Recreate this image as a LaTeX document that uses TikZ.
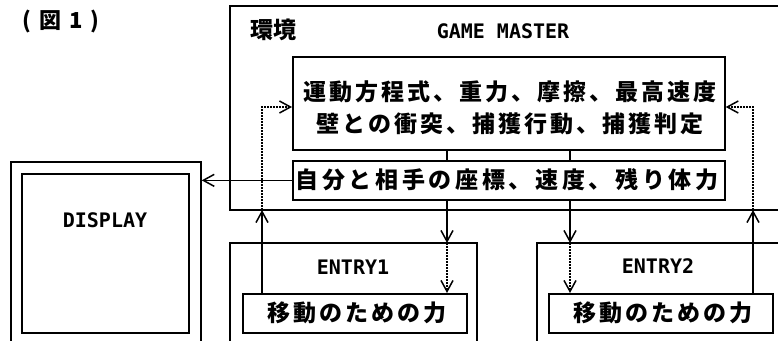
\documentclass[tikz,border=0pt]{standalone}
\usepackage{fontspec}
\newfontfamily\jp{Noto Sans CJK JP}
\newfontfamily\jpA{Noto Sans CJK JP}[LetterSpace=13]
\newfontfamily\jpB{Noto Sans CJK JP}[LetterSpace=16]
\newfontfamily\lat{DejaVu Sans Mono}
\usetikzlibrary{arrows.meta}
\begin{document}
\begin{tikzpicture}[x=1pt,y=-1pt,
  lw/.style={line width=1.7pt},
  box/.style={draw, line width=1.7pt, inner sep=0pt},
  arr/.style={-{Straight Barb[length=11pt,width=12pt,line width=1.5pt]}},
  dotl/.style={line width=1.5pt, dash pattern=on 1.6pt off 1.4pt},
  jtA/.style={font={\jpA\bfseries\fontsize{23}{26}\selectfont}, inner sep=0pt},
  jtB/.style={font={\jpB\bfseries\fontsize{23}{26}\selectfont}, inner sep=0pt},
  jt/.style={font={\jp\bfseries\fontsize{23}{26}\selectfont}, inner sep=0pt},
  lt/.style={font={\lat\bfseries\fontsize{20}{24}\selectfont}, inner sep=0pt}]
\useasboundingbox (0,0) rectangle (778,340);
\clip (0,0) rectangle (778,340);

% title
\node[font={\jp\bfseries\fontsize{22}{24}\selectfont}, inner sep=0pt] (title) at (61,22) {(\hspace{8pt}図\hspace{8pt}1\hspace{8pt})};

% environment box (open to the right)
\draw[lw] (790,6) -- (230,6) -- (230,210) -- (790,210);
\node[jt] (env) at (273,30) {環境};
\node[lt] (gm) at (503,31) {GAME MASTER};

% rules box
\node[box, anchor=north west, minimum width=432pt, minimum height=93pt] (rules) at (292,56) {};
\node[jtA] (r1) at (510,92) {運動方程式、重力、摩擦、最高速度};
\node[jtA] (r2) at (510,124) {壁との衝突、捕獲行動、捕獲判定};

% coordinates box
\node[box, anchor=north west, minimum width=432pt, minimum height=39pt] (coord) at (292,160) {};
\node[jtB] (ctext) at (507,180) {自分と相手の座標、速度、残り体力};

% display
\node[box, anchor=north west, minimum width=190pt, minimum height=200pt] (dispout) at (10,161) {};
\node[box, anchor=north west, minimum width=167pt, minimum height=159pt] (dispin) at (21,173) {};
\node[lt] (disp) at (105,220) {DISPLAY};

% entry boxes (open at the bottom)
\coordinate (e1top) at (230,243);
\coordinate (e2top) at (537,243);
\draw[lw] (230,360) -- (e1top) -- (477,243) -- (477,360);
\draw[lw] (537,360) -- (e2top) -- (790,243);
\node[lt] (en1) at (353,267) {ENTRY1};
\node[lt] (en2) at (658,266) {ENTRY2};

% force boxes
\node[box, anchor=north west, minimum width=224pt, minimum height=39pt] (f1) at (242,293) {};
\node[jtA] (f1t) at (357,313) {移動のための力};
\node[box, anchor=north west, minimum width=224pt, minimum height=39pt] (f2) at (548,293) {};
\node[jtA] (f2t) at (663,313) {移動のための力};

% helper coordinates
\coordinate (cx1) at (447,0);
\coordinate (cx2) at (570,0);
\coordinate (u1) at (262,210);
\coordinate (u2) at (753,210);
\coordinate (ya) at (0,107);

% connectors rules -> coord
\draw[lw] (rules.south -| cx1) -- (coord.north -| cx1);
\draw[lw] (rules.south -| cx2) -- (coord.north -| cx2);

% coord -> entries
\draw[lw,arr] (coord.south -| cx1) -- (e1top -| cx1);
\draw[lw,arr] (coord.south -| cx2) -- (e2top -| cx2);
\draw[dotl,arr] (e1top -| cx1) -- (f1.north -| cx1);
\draw[dotl,arr] (e2top -| cx2) -- (f2.north -| cx2);

% forces -> environment -> rules
\draw[lw,arr] (f1.north -| u1) -- (u1);
\draw[lw,arr] (f2.north -| u2) -- (u2);
\draw[dotl,arr] (u1) |- (rules.west |- ya);
\draw[dotl,arr] (u2) |- (rules.east |- ya);

% coord -> display
\draw[lw,arr] (coord.west) -- (dispout.east |- coord.west);
\end{tikzpicture}
\end{document}
